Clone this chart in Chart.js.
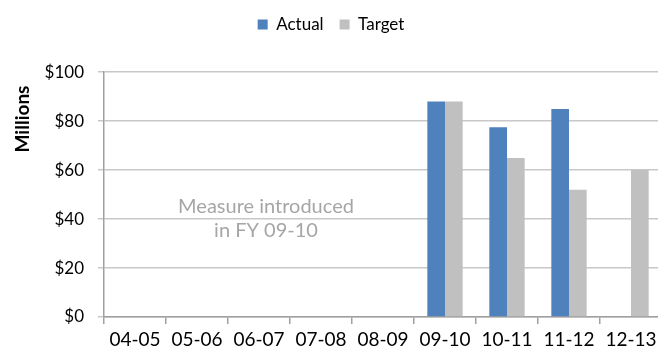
<!DOCTYPE html>
<html>
<head>
<meta charset="utf-8">
<script src="https://cdn.jsdelivr.net/npm/chart.js@4/dist/chart.umd.min.js"></script>
<style>
  html, body { margin: 0; padding: 0; background: #fff; overflow: hidden; }
  #wrap { width: 662px; height: 352px; }
</style>
</head>
<body>
<div id="wrap"><canvas id="c" width="662" height="352"></canvas></div>
<script>
const categories = ['04-05', '05-06', '06-07', '07-08', '08-09', '09-10', '10-11', '11-12', '12-13'];
const actualValues = [null, null, null, null, null, 88, 77.5, 85, null];
const targetValues = [null, null, null, null, null, 88, 65, 52, 60];
const yTickValues = [0, 20, 40, 60, 80, 100];
const noteLines = ['Measure introduced', 'in FY 09-10'];

const FONT = 'Lato, "Open Sans", sans-serif';

// Side title and the note inside the plot area
const extras = {
  id: 'extras',
  afterDraw(chart) {
    const ctx = chart.ctx;
    const y = chart.scales.y, x = chart.scales.x;
    ctx.save();
    ctx.fillStyle = '#000';
    ctx.font = 'bold 19px ' + FONT;
    ctx.translate(23, 119);
    ctx.rotate(-Math.PI / 2);
    ctx.textAlign = 'center';
    ctx.textBaseline = 'middle';
    ctx.fillText('Millions', 0, 0);
    ctx.restore();

    ctx.save();
    ctx.fillStyle = '#a6a6a6';
    ctx.font = '20px ' + FONT;
    ctx.textAlign = 'center';
    ctx.textBaseline = 'middle';
    const cx = x.getPixelForValue(2) + 7;
    ctx.fillText(noteLines[0], cx, y.getPixelForValue(45.3));
    ctx.fillText(noteLines[1], cx, y.getPixelForValue(35.5));
    ctx.restore();
  }
};

new Chart(document.getElementById('c'), {
  type: 'bar',
  data: {
    labels: categories,
    datasets: [
      { label: 'Actual', data: actualValues, backgroundColor: '#4f81bd', borderWidth: 0 },
      { label: 'Target', data: targetValues, backgroundColor: '#c0c0c0', borderWidth: 0 }
    ]
  },
  options: {
    responsive: false,
    animation: false,
    layout: { padding: 0 },
    datasets: { bar: { barPercentage: 1, categoryPercentage: 0.57 } },
    plugins: {
      legend: {
        position: 'top',
        labels: {
          font: { family: FONT, size: 17 },
          color: '#000',
          boxWidth: 10,
          boxHeight: 10,
          padding: 16
        }
      },
      // empty spacer between the legend and the plot
      title: { display: true, text: '', weight: 500, font: { size: 1 }, padding: { top: 0, bottom: 28 } },
      tooltip: { enabled: false }
    },
    scales: {
      x: {
        afterFit(s) { s.height = 35; },
        grid: { drawOnChartArea: false, tickLength: 7, color: '#a0a0a0', lineWidth: 1.5 },
        border: { color: '#a0a0a0', width: 1.5 },
        ticks: { font: { family: FONT, size: 19 }, color: '#000', padding: 4, maxRotation: 0, autoSkip: false }
      },
      y: {
        min: 0, max: 100,
        afterFit(s) { s.width = 104; },
        afterBuildTicks(s) { s.ticks = yTickValues.map(v => ({ value: v })); },
        grid: { color: '#c8c8c8', lineWidth: 1.5, tickLength: 6 },
        border: { color: '#a0a0a0', width: 1.5 },
        ticks: {
          font: { family: FONT, size: 17 },
          color: '#000',
          padding: 14,
          callback: v => '$' + v
        }
      }
    }
  },
  plugins: [extras]
});
</script>
</body>
</html>
